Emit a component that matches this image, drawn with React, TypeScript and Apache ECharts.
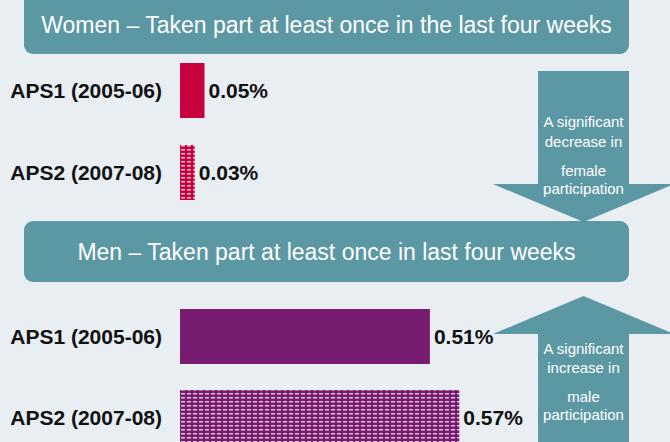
import React, { useEffect, useRef } from "react";
import * as echarts from "echarts";

const categories = ["APS1 (2005-06)", "APS2 (2007-08)"];
const womenValues = [0.05, 0.03];
const menValues = [0.51, 0.57];
const womenTitle = "Women \u2013 Taken part at least once in the last four weeks";
const menTitle = "Men \u2013 Taken part at least once in last four weeks";
const downArrowText = ["A significant", "decrease in", "female", "participation"];
const upArrowText = ["A significant", "increase in", "male", "participation"];

const BG = "#e8eef1";
const TEAL = "#5c98a3";
const CRIMSON = "#c8003e";
const PURPLE = "#781c6f";

function makePattern(color: string) {
  const c = document.createElement("canvas");
  c.width = 6;
  c.height = 4;
  const ctx = c.getContext("2d")!;
  ctx.fillStyle = color;
  ctx.fillRect(0, 0, 6, 4);
  ctx.fillStyle = "rgba(255,255,255,0.75)";
  ctx.fillRect(1, 1, 4, 1.5);
  return { image: c, repeat: "repeat" } as any;
}

export default function App() {
  const ref = useRef<HTMLDivElement>(null);
  useEffect(() => {
    document.body.style.margin = "0";
    document.body.style.overflow = "hidden";
    document.documentElement.style.overflow = "hidden";
    const chart = echarts.init(ref.current!, undefined, { renderer: "svg" });
    const labelStyle = {
      show: true,
      position: "right" as const,
      distance: 4,
      fontFamily: "Liberation Sans",
      fontWeight: "bold" as const,
      fontSize: 21,
      color: "#111",
      formatter: (p: any) => Number(p.value).toFixed(2) + "%",
    };
    const yAxisCommon = {
      type: "category" as const,
      data: categories,
      inverse: true,
      axisLine: { show: false },
      axisTick: { show: false },
      axisLabel: {
        margin: 18,
        fontFamily: "Liberation Sans",
        fontWeight: "bold" as const,
        fontSize: 21,
        color: "#111",
      },
    };
    const arrowTexts = (lines: string[], ys: number[]) =>
      lines.map((t, i) => ({
        type: "text",
        z: 5,
        style: {
          text: t,
          x: 583.5,
          y: ys[i],
          align: "center",
          verticalAlign: "middle",
          fill: "#ffffff",
          font: "15px 'Liberation Sans'",
        },
      }));
    chart.setOption({
      animation: false,
      backgroundColor: BG,
      grid: [
        { left: 180, top: 49.5, width: 500, height: 164 },
        { left: 180, top: 296, width: 500, height: 162 },
      ],
      xAxis: [
        { type: "value", gridIndex: 0, min: 0, max: 1, show: false },
        { type: "value", gridIndex: 1, min: 0, max: 1, show: false },
      ],
      yAxis: [
        { ...yAxisCommon, gridIndex: 0 },
        { ...yAxisCommon, gridIndex: 1 },
      ],
      series: [
        {
          type: "bar",
          xAxisIndex: 0,
          yAxisIndex: 0,
          barWidth: 55,
          z: 2,
          label: labelStyle,
          data: womenValues.map((v, i) => ({
            value: v,
            itemStyle: { color: i === 0 ? CRIMSON : makePattern(CRIMSON) },
          })),
        },
        {
          type: "bar",
          xAxisIndex: 1,
          yAxisIndex: 1,
          barWidth: 55,
          z: 2,
          label: labelStyle,
          data: menValues.map((v, i) => ({
            value: v,
            itemStyle: { color: i === 0 ? PURPLE : makePattern(PURPLE) },
          })),
        },
      ],
      graphic: [
        {
          type: "polygon",
          z: 1,
          shape: {
            points: [
              [538, 71], [629, 71], [629, 184], [674, 184],
              [583.5, 222], [493, 184], [538, 184],
            ],
          },
          style: { fill: TEAL },
        },
        {
          type: "polygon",
          z: 1,
          shape: {
            points: [
              [583.5, 296], [674, 334], [629, 334], [629, 470],
              [538, 470], [538, 334], [493, 334],
            ],
          },
          style: { fill: TEAL },
        },
        {
          type: "rect",
          z: 3,
          shape: { x: 24, y: -10, width: 605, height: 64, r: 9 },
          style: { fill: TEAL },
        },
        {
          type: "rect",
          z: 3,
          shape: { x: 24, y: 221, width: 605, height: 61, r: 9 },
          style: { fill: TEAL },
        },
        {
          type: "text",
          z: 5,
          style: {
            text: womenTitle,
            x: 326.5,
            y: 25,
            align: "center",
            verticalAlign: "middle",
            fill: "#ffffff",
            font: "23px 'Liberation Sans'",
          },
        },
        {
          type: "text",
          z: 5,
          style: {
            text: menTitle,
            x: 326.5,
            y: 252,
            align: "center",
            verticalAlign: "middle",
            fill: "#ffffff",
            font: "23px 'Liberation Sans'",
          },
        },
        ...arrowTexts(downArrowText, [121, 141, 170, 188]),
        ...arrowTexts(upArrowText, [348, 367, 396, 414]),
      ],
    });
    return () => chart.dispose();
  }, []);
  return <div ref={ref} style={{ width: 670, height: 470 }} />;
}
